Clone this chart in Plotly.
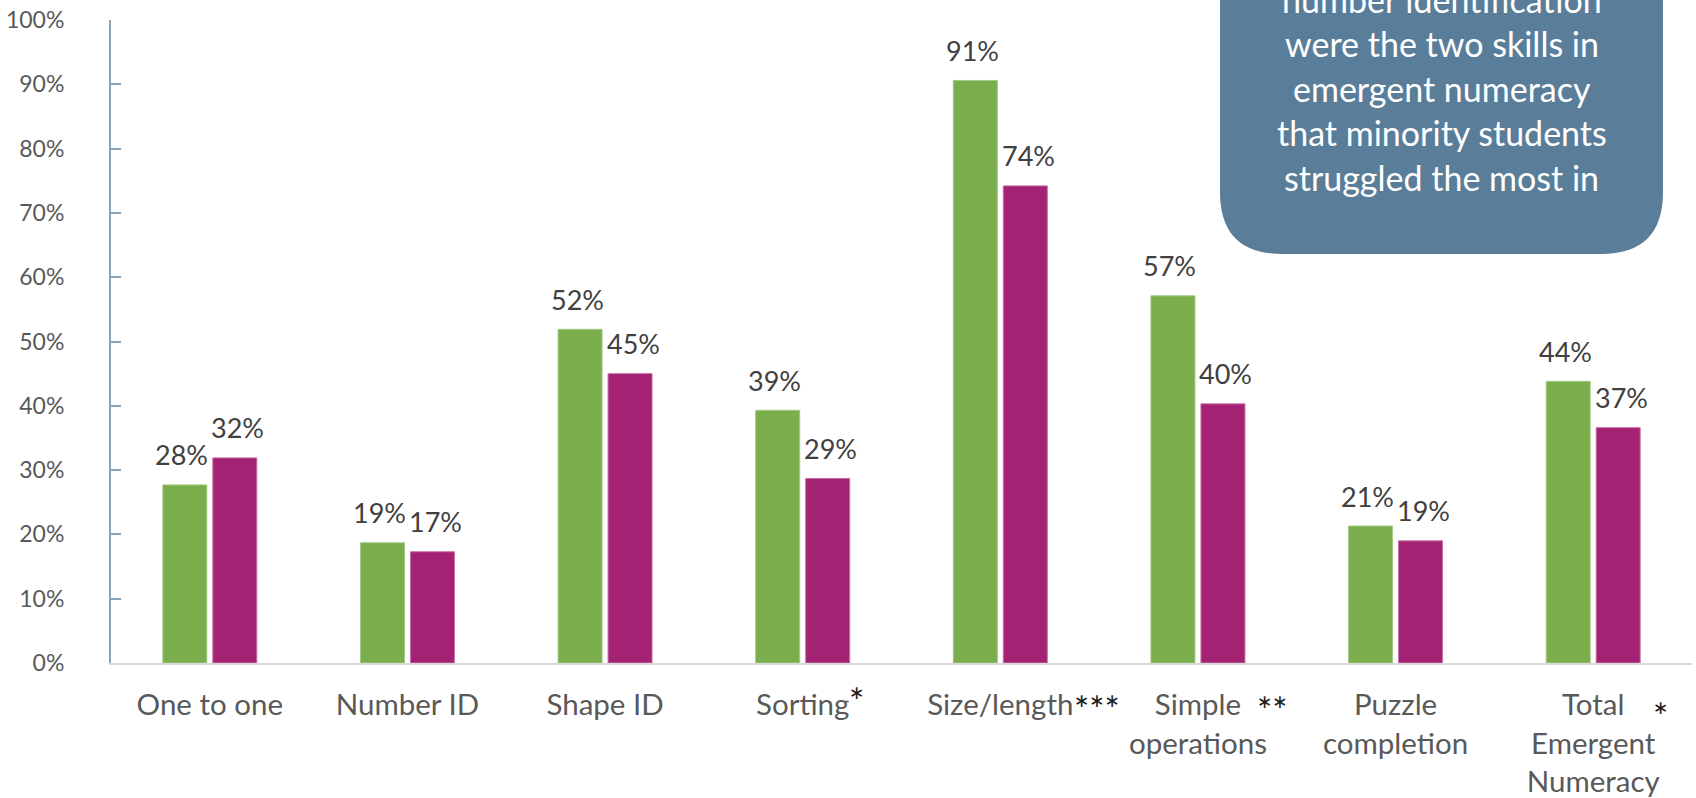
import plotly.graph_objects as go

# Skill categories and their axis labels
categories = ["One to one", "Number ID", "Shape ID", "Sorting", "Size/length",
              "Simple operations", "Puzzle completion", "Total Emergent Numeracy"]
tick_labels = ["One to one", "Number ID", "Shape ID", "Sorting", "Size/length",
               "Simple<br>operations", "Puzzle<br>completion", "Total<br>Emergent<br>Numeracy"]

# Share of students demonstrating each skill (%)
majority_pct = [27.7, 18.7, 51.9, 39.3, 90.6, 57.1, 21.3, 43.8]
minority_pct = [31.9, 17.3, 45.0, 28.7, 74.2, 40.3, 19.0, 36.6]

# Significance markers per category
significance = ["", "", "", "*", "***", "**", "", "*"]

y_ticks = [0, 10, 20, 30, 40, 50, 60, 70, 80, 90, 100]
y_tick_labels = [f"{v}%" for v in y_ticks]

callout_lines = ["number identification", "were the two skills in", "emergent numeracy",
                 "that minority students", "struggled the most in"]

GREEN = "#7AAD4B"
MAGENTA = "#A32273"
TEXT = "#595959"
FONT = "Lato"

W, H = 1696, 798
ML, MR, MT, MB = 111, 4, 20, 135
plot_w = W - ML - MR
plot_h = H - MT - MB


def px_x(p):
    return (p - ML) / plot_w


def px_y(p):
    return (H - MB - p) / plot_h


fig = go.Figure()
fig.add_trace(go.Bar(x=categories, y=majority_pct, name="Majority",
                     marker=dict(color=GREEN, line=dict(color="#A3C982", width=1))))
fig.add_trace(go.Bar(x=categories, y=minority_pct, name="Minority",
                     marker=dict(color=MAGENTA, line=dict(color="#C86FA6", width=1))))

annotations = []
# value labels above each bar
for series, shift in ((majority_pct, -28), (minority_pct, 28)):
    for cat, v in zip(categories, series):
        annotations.append(dict(
            x=cat, y=v, xref="x", yref="y", text=f"{v:.0f}%", showarrow=False,
            xshift=shift, yshift=30, yanchor="middle", xanchor="center",
            font=dict(family=FONT, size=27, color="#404040")))

# significance stars beside category labels
star_offsets = {"Sorting": (54, -38), "Size/length": (97, -46),
                "Simple operations": (75, -47), "Total Emergent Numeracy": (67, -53)}
for cat, mark in zip(categories, significance):
    if not mark:
        continue
    dx, dy = star_offsets[cat]
    annotations.append(dict(
        x=cat, y=0, xref="x", yref="paper", text=mark, showarrow=False,
        xshift=dx, yshift=dy, yanchor="middle", xanchor="center",
        font=dict(family=FONT, size=36, color="#1A1A1A")))

# callout box text
line_centers = [-1, 43, 88, 132, 177]
for txt, yc in zip(callout_lines, line_centers):
    annotations.append(dict(
        x=px_x(1441.5), y=px_y(yc), xref="paper", yref="paper", text=txt,
        showarrow=False, xanchor="center", yanchor="middle",
        font=dict(family=FONT, size=34, color="white")))

# rounded callout box (top edge runs off the page)
x0, x1 = px_x(1220), px_x(1663)
yb, yt = px_y(254), px_y(-60)
rx, ry = 62 / plot_w, 62 / plot_h
box_path = (f"M {x0},{yt} L {x0},{yb + ry} Q {x0},{yb} {x0 + rx},{yb} "
            f"L {x1 - rx},{yb} Q {x1},{yb} {x1},{yb + ry} L {x1},{yt} Z")

fig.update_layout(
    width=W, height=H,
    margin=dict(l=ML, r=MR, t=MT, b=MB, pad=0),
    paper_bgcolor="white", plot_bgcolor="white",
    barmode="group", bargap=0.494, bargroupgap=0.12,
    showlegend=False,
    font=dict(family=FONT, color=TEXT),
    shapes=[dict(type="path", path=box_path, xref="paper", yref="paper",
                 fillcolor="#5A7E99", line=dict(width=0), layer="above")],
    annotations=annotations,
)
fig.update_xaxes(
    tickvals=categories, ticktext=tick_labels, showline=True, linecolor="#D9D9D9",
    linewidth=2, ticks="", showgrid=False, ticklabelstandoff=15, automargin=False,
    tickfont=dict(family=FONT, size=29.5, color=TEXT))
fig.update_yaxes(
    range=[0, 100], tickvals=y_ticks, ticktext=y_tick_labels, showgrid=False,
    zeroline=False, showline=True, linecolor="#8CA3B6", linewidth=2, ticks="inside",
    ticklen=10, tickcolor="#8CA3B6", tickwidth=2, ticklabelstandoff=40,
    automargin=False, tickfont=dict(family=FONT, size=23, color=TEXT))

fig.write_html("out.html")
